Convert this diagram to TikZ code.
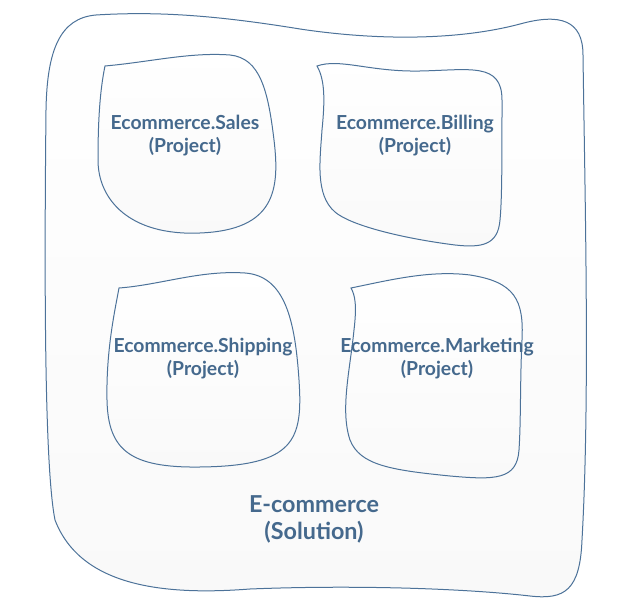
\documentclass[tikz,border=0pt]{standalone}
\usepackage{fontspec}
\setmainfont{Lato}
\definecolor{edge}{HTML}{4C7299}
\definecolor{ink}{HTML}{45698D}
\definecolor{floor}{HTML}{F9F9F9}

\begin{document}
\begin{tikzpicture}[x=0.75pt, y=-0.75pt, blob/.style = {draw=edge, line width=0.75pt, top color=white, bottom color=floor}, proj/.style = {text=ink, align=center, font=\bfseries\fontsize{14.5}{17.5}\selectfont}, sol/.style = {text=ink, align=center, font=\bfseries\fontsize{17.5}{20.5}\selectfont}]
        \useasboundingbox (0,0) rectangle (626,606);
        \path[blob] (96,15) .. controls (160,11) and (220,16) .. (300,29) .. controls (380,41) and (460,40) .. (520,24) .. controls (560,13) and (583,20) .. (583,55) .. controls (585,200) and (590,400) .. (582,540) .. controls (580,590) and (565,600) .. (530,596) .. controls (460,588) and (350,585) .. (250,589) .. controls (160,596) and (80,585) .. (55,520) .. controls (45,470) and (44,300) .. (46,110) .. controls (47,50) and (60,18) .. cycle;
        \path[blob] (105,66) .. controls (150,62) and (190,52) .. (230,55) .. controls (260,58) and (268,90) .. (274,140) .. controls (280,190) and (275,230) .. (200,233) .. controls (130,236) and (98,200) .. (98,160) .. controls (98,120) and (100,90) .. cycle;
        \path[blob] (317,66) .. controls (340,58) and (370,72) .. (420,71) .. controls (470,70) and (502,62) .. (502,100) .. controls (502,160) and (502,200) .. (500,220) .. controls (498,245) and (482,248) .. (455,245) .. controls (400,238) and (350,225) .. (335,212) .. controls (315,195) and (320,160) .. (322,130) .. controls (325,100) and (325,80) .. cycle;
        \path[blob] (119,288) .. controls (160,285) and (200,270) .. (245,273) .. controls (285,276) and (295,320) .. (299,380) .. controls (303,440) and (295,466) .. (200,467) .. controls (130,468) and (108,450) .. (107,400) .. controls (106,350) and (115,310) .. cycle;
        \path[blob] (351,288) .. controls (390,280) and (430,270) .. (470,275) .. controls (515,282) and (524,300) .. (522,340) .. controls (520,380) and (521,420) .. (519,450) .. controls (517,480) and (495,480) .. (450,476) .. controls (390,470) and (360,465) .. (350,440) .. controls (340,410) and (350,370) .. (354,330) .. controls (357,305) and (355,295) .. cycle;
        \node[proj] (sales) at (185,135.5) {Ecommerce.Sales\\(Project)};
        \node[proj] (billing) at (415,135.5) {Ecommerce.Billing\\(Project)};
        \node[proj] (shipping) at (203,358.5) {Ecommerce.Shipping\\(Project)};
        \node[proj] (marketing) at (437,358.5) {Ecommerce.Marketing\\(Project)};
        \node[sol] (solution) at (314,519.5) {E-commerce\\(Solution)};
    \end{tikzpicture}
\end{document}
